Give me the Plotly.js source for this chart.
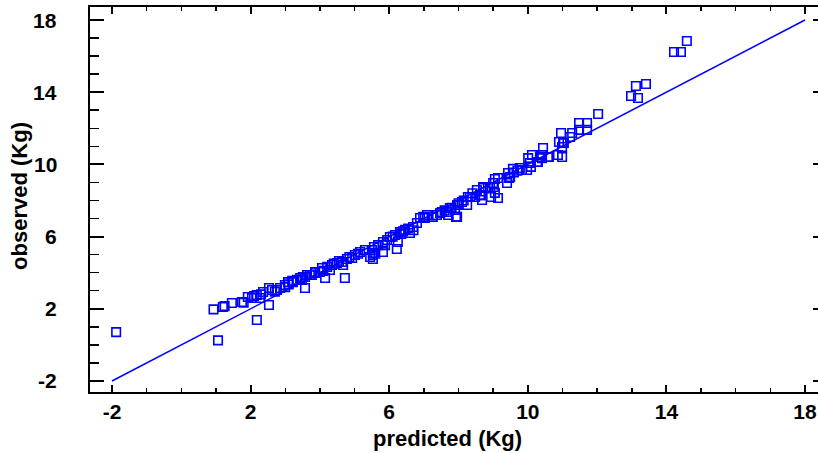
<!DOCTYPE html>
<html>
<head>
<meta charset="utf-8">
<script src="https://cdn.plot.ly/plotly-3.0.1.min.js"></script>
<style>
html,body{margin:0;padding:0;overflow:hidden;background:#fff;}
#chart{width:830px;height:453px;}
</style>
</head>
<body>
<div id="chart"></div>
<script>
// predicted (Kg)
const predicted = [
  -1.88, 1.06, 0.93, 2.18, 1.20, 1.25, 1.46, 1.75, 1.80, 1.92, 2.04, 2.10,
  2.18, 2.27, 2.36, 2.30, 2.53, 2.53, 2.62, 2.76, 2.85, 2.70,
  2.99, 3.08, 3.22, 3.34, 3.43, 3.48, 3.57, 3.57, 3.63, 3.71, 3.51, 3.10, 3.20, 3.00,
  3.77, 3.86, 3.86, 4.00, 4.06, 4.15, 4.21, 4.29, 4.35, 4.49, 4.64, 4.67, 4.72, 4.78,
  4.93, 5.01, 5.16, 5.30, 4.40, 4.55, 4.85, 5.10, 4.10,
  5.45, 5.50, 5.53, 5.53, 5.56, 5.68, 5.53, 5.60, 5.82, 5.88, 5.82, 5.94, 6.02, 6.17,
  6.22, 6.25, 6.31, 6.46, 6.60, 6.69, 6.80, 6.89, 6.98, 7.03, 7.09, 6.40, 6.55, 6.10, 6.35, 6.70,
  7.26, 7.38, 7.47, 7.52, 7.67, 7.70, 7.75, 7.90, 7.96, 7.99, 7.96, 7.93, 8.10, 8.25,
  8.27, 8.33, 8.48, 8.53, 8.62, 8.65, 8.68, 8.71, 8.71, 8.91, 8.94, 9.00, 9.02, 9.05,
  9.05, 9.14, 9.14, 8.85, 8.40, 7.80, 8.00, 7.60, 8.15,
  9.40, 9.43, 9.46, 9.49, 9.57, 9.77, 9.83, 9.98, 10.01, 10.06, 10.09, 10.12, 10.27,
  10.29, 10.35, 10.41, 10.41, 10.44, 10.58, 10.61, 10.87, 10.90, 10.96, 10.99, 10.99,
  11.02, 11.04, 11.22, 11.28, 11.48, 11.71, 11.48, 11.71, 12.03, 9.60, 9.70,
  12.98, 13.18, 13.12, 13.41, 14.22, 14.42, 14.59
];
// observed (Kg)
const observed = [
  0.71, 0.25, 1.97, 1.38, 2.10, 2.15, 2.32, 2.38, 2.34, 2.65, 2.60, 2.70,
  2.76, 2.60, 2.93, 2.80, 3.15, 2.21, 3.04, 3.04, 3.15, 2.95,
  3.32, 3.48, 3.48, 3.60, 3.71, 3.60, 3.76, 3.15, 3.87, 3.87, 3.76, 3.35, 3.55, 3.20,
  3.87, 3.98, 4.04, 4.04, 4.26, 3.71, 4.32, 4.15, 4.43, 4.54, 4.59, 4.43, 3.71, 4.76,
  4.81, 4.98, 5.15, 5.26, 4.50, 4.65, 4.87, 5.05, 4.10,
  4.87, 5.26, 4.98, 4.76, 5.42, 5.53, 5.10, 5.05, 5.70, 5.53, 5.15, 5.81, 5.98, 6.09,
  5.31, 5.70, 6.25, 6.37, 6.20, 6.53, 6.75, 7.03, 7.09, 7.03, 7.20, 6.30, 6.45, 6.00, 6.15, 6.35,
  7.09, 7.20, 7.31, 7.36, 7.36, 7.20, 7.58, 7.47, 7.75, 7.75, 7.09, 7.09, 7.92, 7.75,
  8.19, 8.19, 8.19, 8.58, 8.30, 8.30, 8.03, 8.75, 8.69, 8.69, 8.19, 8.97, 8.75, 9.19,
  8.42, 8.14, 9.25, 8.75, 8.40, 7.60, 7.85, 7.45, 8.00,
  8.97, 9.52, 9.25, 9.30, 9.75, 9.80, 9.69, 9.69, 10.35, 10.08, 9.86, 10.52, 10.13,
  10.13, 10.41, 10.52, 10.35, 10.91, 10.41, 10.41, 10.52, 11.24, 11.74, 10.41, 10.96,
  11.19, 11.19, 11.52, 11.74, 12.29, 12.29, 11.91, 11.91, 12.79, 9.55, 9.65,
  13.79, 13.68, 14.34, 14.45, 16.23, 16.23, 16.84
];
// reference line y = x
const lineX = [-2, 18];
const lineY = [-2, 18];
// tick values / labels
const tickVals = [-2, 2, 6, 10, 14, 18];
const tickText = ["-2", "2", "6", "10", "14", "18"];

const FONT = "Liberation Sans, Arial, sans-serif";
const tickFont = {family: FONT, size: 21, color: "#000", weight: "bold"};
const titleFont = {family: FONT, size: 22, color: "#000", weight: "bold"};

const traces = [
  {
    x: lineX, y: lineY, type: "scatter", mode: "lines",
    line: {color: "#0000ff", width: 1.5}, hoverinfo: "skip", showlegend: false
  },
  {
    x: predicted, y: observed, type: "scatter", mode: "markers",
    marker: {symbol: "square-open", size: 8.5, color: "#0000ff", line: {width: 1.6, color: "#0000ff"}},
    showlegend: false
  }
];

const axisCommon = {
  showline: true, linecolor: "#000", linewidth: 2, mirror: "allticks",
  ticks: "inside", tickwidth: 2, tickcolor: "#000",
  showgrid: false, zeroline: false,
  tickmode: "array", tickvals: tickVals, ticktext: tickText,
  tickfont: tickFont
};

// y tick labels placed as annotations so they sit farther from the axis line
const yTickLabels = tickVals.map((v, i) => ({
  text: tickText[i], xref: "paper", yref: "y", x: -0.042, y: v,
  xanchor: "right", yanchor: "middle", showarrow: false, font: tickFont
}));

const layout = {
  width: 830, height: 453,
  margin: {l: 90, r: 3, t: 7, b: 61, pad: 0},
  paper_bgcolor: "#fff", plot_bgcolor: "#fff",
  showlegend: false,
  xaxis: Object.assign({}, axisCommon, {
    range: [-2.635, 18.635], ticklen: 7,
    minor: {dtick: 1, tick0: 0, ticks: "inside", ticklen: 4, tickwidth: 1.5, tickcolor: "#000"}
  }),
  yaxis: Object.assign({}, axisCommon, {
    range: [-2.61, 18.72], ticklen: 14, showticklabels: false,
    minor: {dtick: 1, tick0: 0, ticks: "inside", ticklen: 9, tickwidth: 1.5, tickcolor: "#000"}
  }),
  annotations: [
    {text: "predicted (Kg)", xref: "paper", yref: "paper", x: 0.4844, y: -0.1195,
     xanchor: "center", yanchor: "middle", showarrow: false, font: titleFont},
    {text: "observed (Kg)", xref: "paper", yref: "paper", x: -0.0965, y: 0.509,
     xanchor: "center", yanchor: "middle", showarrow: false, textangle: -90, font: titleFont}
  ].concat(yTickLabels)
};

Plotly.newPlot("chart", traces, layout, {displayModeBar: false, staticPlot: true});
</script>
</body>
</html>
